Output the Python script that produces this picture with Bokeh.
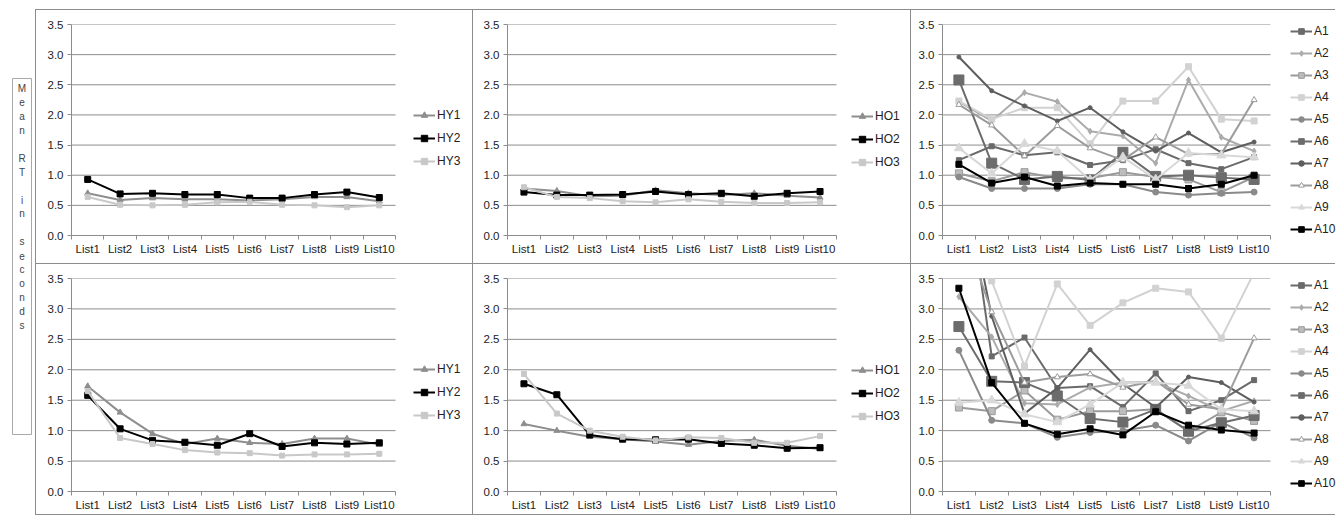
from bokeh.plotting import figure
from bokeh.models import (Range1d, LinearAxis, FixedTicker, Spacer,
                          Legend, LegendItem, NumeralTickFormatter)
from bokeh.layouts import row, column
from bokeh.embed import file_html
from bokeh.resources import INLINE
from bokeh.core.properties import value

# ---------------- data ----------------
lists = ["List1", "List2", "List3", "List4", "List5", "List6", "List7", "List8", "List9", "List10"]
y_ticks = [0.0, 0.5, 1.0, 1.5, 2.0, 2.5, 3.0, 3.5]
axis_label = "Mean RT in seconds"

# top-left: HY
HY1_top = [0.70, 0.59, 0.62, 0.60, 0.60, 0.58, 0.60, 0.64, 0.64, 0.57]
HY2_top = [0.93, 0.69, 0.70, 0.68, 0.68, 0.62, 0.62, 0.68, 0.72, 0.63]
HY3_top = [0.64, 0.51, 0.50, 0.51, 0.55, 0.56, 0.51, 0.50, 0.47, 0.50]
# top-middle: HO
HO1_top = [0.78, 0.74, 0.65, 0.66, 0.75, 0.70, 0.67, 0.70, 0.66, 0.63]
HO2_top = [0.72, 0.67, 0.67, 0.68, 0.73, 0.68, 0.70, 0.65, 0.70, 0.73]
HO3_top = [0.80, 0.64, 0.62, 0.57, 0.55, 0.60, 0.56, 0.54, 0.54, 0.55]
# top-right: A
A1_top = [1.25, 1.48, 1.33, 1.38, 1.17, 1.25, 1.43, 1.20, 1.10, 1.30]
A2_top = [2.22, 1.90, 2.37, 2.22, 1.73, 1.65, 1.20, 2.58, 1.63, 1.40]
A3_top = [1.03, 0.90, 1.05, 0.95, 0.95, 1.05, 0.97, 0.93, 0.72, 0.97]
A4_top = [2.23, 1.93, 2.12, 2.12, 1.52, 2.23, 2.23, 2.80, 1.93, 1.90]
A5_top = [0.97, 0.78, 0.78, 0.78, 0.85, 0.85, 0.72, 0.67, 0.70, 0.72]
A6_top = [2.58, 1.20, 0.93, 0.98, 0.92, 1.38, 0.98, 1.00, 0.96, 0.93]
A7_top = [2.96, 2.40, 2.15, 1.90, 2.12, 1.72, 1.40, 1.70, 1.38, 1.55]
A8_top = [2.17, 1.83, 1.32, 1.82, 1.45, 1.25, 1.63, 1.35, 1.35, 2.25]
A9_top = [1.45, 1.03, 1.52, 1.40, 0.92, 1.30, 0.93, 1.37, 1.33, 1.30]
A10_top = [1.18, 0.87, 0.97, 0.82, 0.87, 0.85, 0.85, 0.78, 0.85, 1.00]
# bottom-left: HY
HY1_bot = [1.73, 1.30, 0.95, 0.78, 0.87, 0.80, 0.78, 0.87, 0.87, 0.77]
HY2_bot = [1.58, 1.03, 0.84, 0.81, 0.76, 0.95, 0.74, 0.80, 0.78, 0.80]
HY3_bot = [1.65, 0.88, 0.78, 0.68, 0.64, 0.63, 0.59, 0.61, 0.61, 0.62]
# bottom-middle: HO
HO1_bot = [1.11, 1.00, 0.90, 0.86, 0.82, 0.77, 0.83, 0.85, 0.75, 0.70]
HO2_bot = [1.77, 1.59, 0.93, 0.86, 0.85, 0.86, 0.79, 0.76, 0.71, 0.72]
HO3_bot = [1.93, 1.28, 1.00, 0.90, 0.84, 0.89, 0.88, 0.80, 0.80, 0.91]
# bottom-right: A
A1_bot = [6.00, 2.22, 2.53, 1.70, 1.73, 1.39, 1.94, 1.32, 1.50, 1.83]
A2_bot = [3.20, 2.54, 1.45, 1.43, 1.71, 1.79, 1.80, 1.57, 1.32, 1.49]
A3_bot = [1.38, 1.32, 1.66, 1.18, 1.32, 1.32, 1.35, 0.99, 1.30, 1.16]
A4_bot = [4.00, 3.46, 2.06, 3.41, 2.73, 3.10, 3.34, 3.28, 2.52, 3.60]
A5_bot = [2.32, 1.17, 1.12, 0.89, 0.97, 1.00, 1.09, 0.83, 1.14, 0.88]
A6_bot = [2.71, 1.81, 1.79, 1.57, 1.20, 1.14, 1.35, 0.99, 1.13, 1.25]
A7_bot = [5.50, 2.88, 1.28, 1.70, 2.33, 1.77, 1.38, 1.88, 1.79, 1.47]
A8_bot = [4.50, 2.95, 1.79, 1.88, 1.93, 1.71, 1.82, 1.43, 1.35, 2.52]
A9_bot = [1.46, 1.50, 1.27, 1.14, 1.43, 1.79, 1.79, 1.74, 1.35, 1.32]
A10_bot = [3.34, 1.79, 1.12, 0.94, 1.03, 0.93, 1.31, 1.09, 1.01, 0.96]

# ---------------- styles ----------------
FONT = "Liberation Sans"
GRID = "#8c8c8c"
BORDER = "#8c8c8c"

style3 = [  # (color, marker, size, fill)
    ("#8e8e8e", "triangle", 6, "#8e8e8e"),
    ("#000000", "square", 6, "#000000"),
    ("#c8c8c8", "square", 5, "#c8c8c8"),
]
style10 = [
    ("#6a6a6a", "square", 5, "#6a6a6a"),
    ("#ababab", "diamond", 6, "#ababab"),
    ("#9a9a9a", "square", 7, "#bdbdbd"),
    ("#d2d2d2", "square", 6, "#d2d2d2"),
    ("#8a8a8a", "circle", 6, "#8a8a8a"),
    ("#6c6c6c", "square", 10, "#6c6c6c"),
    ("#5e5e5e", "circle", 4, "#5e5e5e"),
    ("#9c9c9c", "triangle", 6, "#ffffff"),
    ("#d8d8d8", "triangle", 9, "#d8d8d8"),
    ("#000000", "square", 6, "#000000"),
]

positions = list(range(1, len(lists) + 1))          # category slots on the x scale
bounds = [i + 0.5 for i in range(len(lists) + 1)]     # tick marks between categories
x_lo, x_hi = bounds[0], bounds[-1]


def make_panel(names, series, styles, width, height, left, top, bottom, data_w,
               leg_x, leg_top, item_h, leg_spacing, css):
    frame_w = width - left
    # the frame runs to the cell's right edge so the legend can sit inside it;
    # the data area (gridlines / axis) keeps data_w pixels for the 10 lists
    x_end = x_lo + frame_w * len(lists) / data_w
    p = figure(x_range=Range1d(x_lo, x_end),
               y_range=Range1d(0, 3.5), width=width, height=height,
               x_axis_location=None, y_axis_location=None,
               output_backend="svg", toolbar_location=None,
               min_border_left=left, min_border_right=0,
               min_border_top=top, min_border_bottom=bottom,
               background_fill_color="white", border_fill_color="white",
               outline_line_color=None, styles=css)
    p.xgrid.visible = False
    p.ygrid.visible = False
    p.segment(x0=[x_lo] * len(y_ticks), x1=[x_hi] * len(y_ticks), y0=y_ticks, y1=y_ticks,
              line_color=GRID, line_width=1)

    yax = LinearAxis(ticker=FixedTicker(ticks=y_ticks),
                     formatter=NumeralTickFormatter(format="0.0"),
                     axis_line_color=GRID, major_tick_line_color=GRID,
                     major_tick_in=0, major_tick_out=4,
                     minor_tick_line_color=None, major_label_standoff=4,
                     major_label_text_font=FONT, major_label_text_font_size="11.5px",
                     major_label_text_color="#222222")
    p.add_layout(yax, "left")

    xax = LinearAxis(ticker=FixedTicker(ticks=positions, minor_ticks=bounds),
                     bounds=(x_lo, x_hi),
                     major_label_overrides={pos: lab for pos, lab in zip(positions, lists)},
                     axis_line_color=GRID, major_tick_line_color=None,
                     minor_tick_line_color=GRID, minor_tick_in=0, minor_tick_out=4,
                     major_tick_in=0, major_tick_out=4, major_label_standoff=3,
                     major_label_text_font=FONT, major_label_text_font_size="11.5px",
                     major_label_text_color="#222222")
    p.add_layout(xax, "below")

    items = []
    for name, vals, (col, mk, sz, fill) in zip(names, series, styles):
        r1 = p.line(x=positions, y=vals, line_color=col, line_width=2)
        r2 = p.scatter(x=positions, y=vals, marker=mk, size=sz, fill_color=fill,
                       line_color=col, line_width=1)
        items.append(LegendItem(label=name, renderers=[r1, r2]))

    n = len(items)
    leg_h = n * item_h + (n - 1) * leg_spacing
    frame_h = height - top - bottom
    leg = Legend(items=items, location=(leg_x, frame_h - leg_top - leg_h),
                 orientation="vertical", glyph_width=22, glyph_height=item_h,
                 label_height=item_h, spacing=leg_spacing, padding=0, margin=0,
                 label_standoff=2, border_line_color=None, background_fill_alpha=0,
                 label_text_font=FONT, label_text_font_size="12px",
                 label_text_color="#222222")
    p.add_layout(leg, "center")
    return p


ROW1_H, ROW2_H = 254, 252
COLS = [  # width, min_border_left, data-area width, legend x (from frame left)
    (437, 35, 324, 342),
    (438, 34, 329, 344),
    (425, 31, 328, 348),
]
b = "1px solid " + BORDER
css_top = {"border-left": b, "border-top": b}
css_bot = {"border-left": b, "border-top": b, "border-bottom": b}

hy_names = ["HY1", "HY2", "HY3"]
ho_names = ["HO1", "HO2", "HO3"]
a_names = ["A1", "A2", "A3", "A4", "A5", "A6", "A7", "A8", "A9", "A10"]

top_series = [[HY1_top, HY2_top, HY3_top], [HO1_top, HO2_top, HO3_top],
              [A1_top, A2_top, A3_top, A4_top, A5_top, A6_top, A7_top, A8_top, A9_top, A10_top]]
bot_series = [[HY1_bot, HY2_bot, HY3_bot], [HO1_bot, HO2_bot, HO3_bot],
              [A1_bot, A2_bot, A3_bot, A4_bot, A5_bot, A6_bot, A7_bot, A8_bot, A9_bot, A10_bot]]
names_per_col = [hy_names, ho_names, a_names]
styles_per_col = [style3, style3, style10]
leg_top_per_col = [83, 84, 0]
item_h_per_col = [16, 16, 14]
leg_sp_per_col = [7, 7, 8]

top_row, bot_row = [], []
for c in range(3):
    w, l, dw, lx = COLS[c]
    top_row.append(make_panel(names_per_col[c], top_series[c], styles_per_col[c], w, ROW1_H,
                              l, 14, 29, dw, lx, leg_top_per_col[c], item_h_per_col[c],
                              leg_sp_per_col[c], css_top))
    bot_row.append(make_panel(names_per_col[c], bot_series[c], styles_per_col[c], w, ROW2_H,
                              l, 14, 25, dw, lx, leg_top_per_col[c], item_h_per_col[c],
                              leg_sp_per_col[c], css_bot))

# ---------------- vertical label box ----------------
TOP_GAP = 9
TOTAL_H = TOP_GAP + ROW1_H + ROW2_H + 3
lab = figure(width=35, height=TOTAL_H, x_range=Range1d(0, 35), y_range=Range1d(TOTAL_H, 0),
             output_backend="svg", toolbar_location=None, min_border=0,
             outline_line_color=None, x_axis_location=None, y_axis_location=None,
             background_fill_color="white", border_fill_color="white")
lab.xgrid.visible = False
lab.ygrid.visible = False
lab.quad(left=12, right=31, top=78, bottom=434, fill_color="white", line_color="#a8a8a8", line_width=1)
chars = []
for wi, word in enumerate(axis_label.split(" ")):
    if wi:
        chars.append("")
    chars.extend(list(word))
ys = [88 + i * 13.94 for i in range(len(chars))]
lab.text(x=[21.5] * len(chars), y=ys, text=chars, text_align="center", text_baseline="middle",
         text_font=value(FONT), text_font_size="10px", text_color="#444444")

layout = row(lab, column(Spacer(height=TOP_GAP, width=10), row(*top_row), row(*bot_row)))
open("out.html", "w").write(file_html(layout, INLINE))
